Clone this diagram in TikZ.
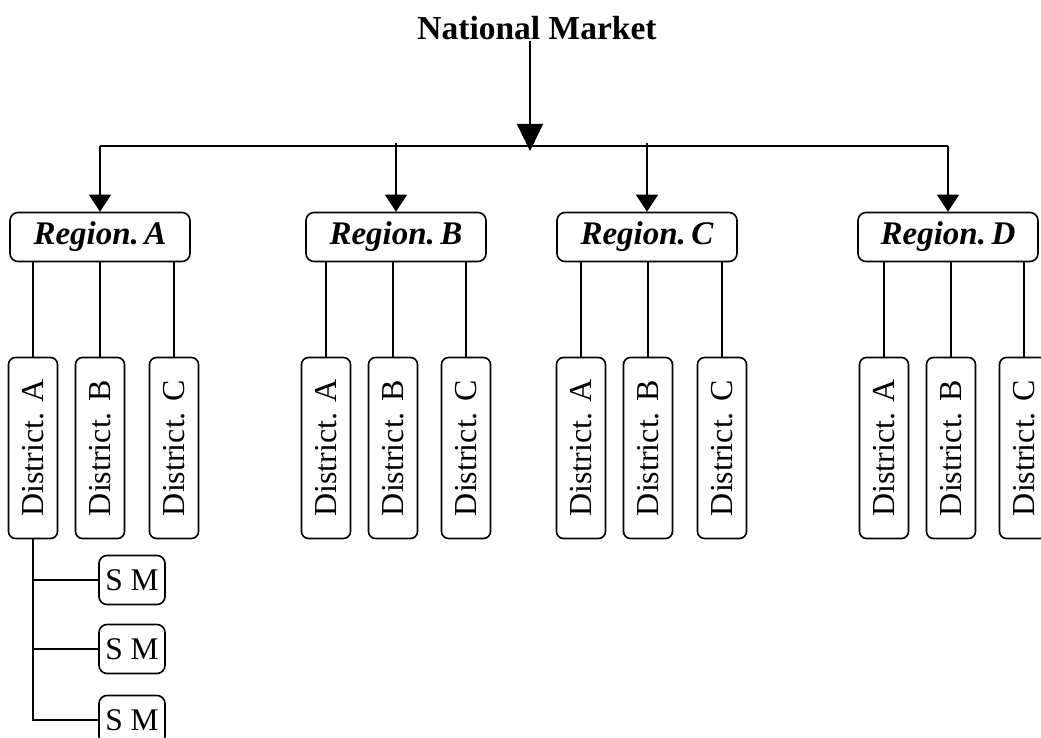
\documentclass[tikz,border=0pt]{standalone}
\usepackage{fontspec}
\setmainfont{Liberation Serif}
\usetikzlibrary{arrows.meta}
\begin{document}
\begin{tikzpicture}[x=1pt,y=-1pt,
  conn/.style={line width=1.3pt},
  regbox/.style={draw, line width=1.6pt, rounded corners=8pt, minimum width=180pt, minimum height=49pt, inner sep=0pt, font=\fontsize{33pt}{36pt}\selectfont\bfseries\itshape},
  distbox/.style={draw, line width=1.6pt, rounded corners=7pt, minimum width=181pt, minimum height=49pt, inner sep=0pt, rotate=90, font=\fontsize{32pt}{36pt}\selectfont},
  smbox/.style={draw, line width=1.6pt, rounded corners=8pt, minimum width=66pt, minimum height=49pt, inner sep=0pt, font=\fontsize{31.5pt}{36pt}\selectfont},
  bigarrow/.style={-{Triangle[length=27pt,width=26pt]}},
  arr/.style={-{Triangle[length=17pt,width=22pt]}}
]
\useasboundingbox[fill=white] (0,0) rectangle (1041,738);
\clip (0,0) rectangle (1041,738);

% title
\node[anchor=base, inner sep=0pt, font=\fontsize{33.5pt}{36pt}\selectfont\bfseries] (title) at (537,40) {National Market};
\coordinate (hub) at (530,151);
\coordinate (busL) at (100,146);
\coordinate (busR) at (948,146);

% regions
\node[regbox] (regA) at (100,237) {Region.\,A};
\node[regbox] (regB) at (396,237) {Region.\,B};
\node[regbox] (regC) at (647,237) {Region.\,C};
\node[regbox] (regD) at (948,237) {Region.\,D};

% districts
\node[distbox] (dAA) at (33,448) {District. A};
\node[distbox] (dAB) at (100,448) {District. B};
\node[distbox] (dAC) at (174,448) {District. C};
\node[distbox] (dBA) at (326,448) {District. A};
\node[distbox] (dBB) at (393,448) {District. B};
\node[distbox] (dBC) at (466,448) {District. C};
\node[distbox] (dCA) at (581,448) {District. A};
\node[distbox] (dCB) at (648,448) {District. B};
\node[distbox] (dCC) at (722,448) {District. C};
\node[distbox] (dDA) at (884,448) {District. A};
\node[distbox] (dDB) at (951,448) {District. B};
\node[distbox] (dDC) at (1024,448) {District. C};

% SM
\node[smbox] (sm1) at (132,580) {S M};
\node[smbox] (sm2) at (132,649) {S M};
\node[smbox] (sm3) at (132,720) {S M};

% connectors
\draw[conn,bigarrow] (title.south -| hub) -- (hub);
\draw[conn] (busL) -- (busR);
\draw[conn,arr] (regA.north |- busL) -- (regA.north);
\draw[conn,arr] (regB.north |- busL) ++(0,-3) -- (regB.north);
\draw[conn,arr] (regC.north |- busL) ++(0,-3) -- (regC.north);
\draw[conn,arr] (regD.north |- busL) -- (regD.north);

\foreach \r/\d in {regA/dAA,regA/dAB,regA/dAC,regB/dBA,regB/dBB,regB/dBC,regC/dCA,regC/dCB,regC/dCC,regD/dDA,regD/dDB,regD/dDC}{
  \draw[conn] (\r.south -| \d.east) -- (\d.east);
}

\draw[conn] (dAA.west) -- (dAA.west |- sm3.west) -- (sm3.west);
\draw[conn] (dAA.west |- sm1.west) -- (sm1.west);
\draw[conn] (dAA.west |- sm2.west) -- (sm2.west);
\end{tikzpicture}
\end{document}
